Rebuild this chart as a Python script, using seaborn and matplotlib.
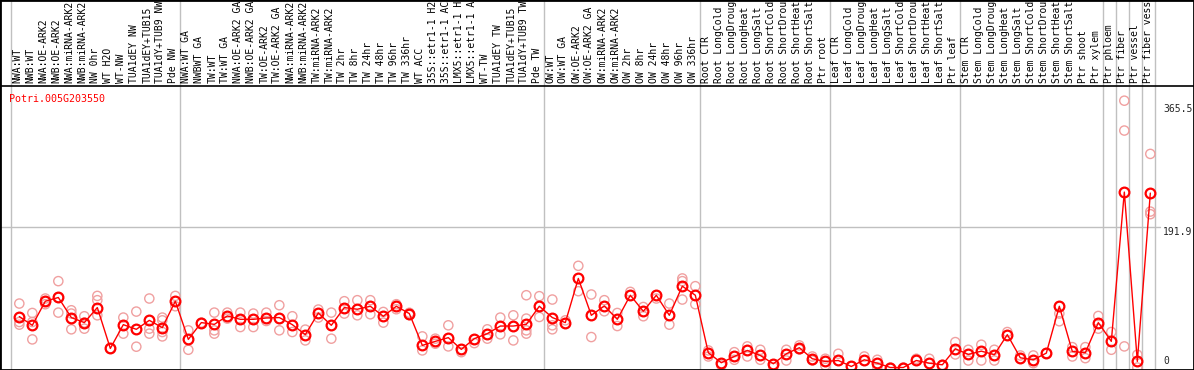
import numpy as np
import pandas as pd
import matplotlib
matplotlib.use("Agg")
import matplotlib.pyplot as plt
from matplotlib.lines import Line2D
import seaborn as sns

gene = "Potri.005G203550"

# sample names as printed in the header (cut to 14 characters there)
labels = [
    "NWA:WT", "NWB:WT", "NWA:OE-ARK2", "NWB:OE-ARK2", "NWA:miRNA-ARK2", "NWB:miRNA-ARK2",
    "NW 0hr", "WT H2O", "WT-NW", "TUA1dEY NW", "TUA1dEY+TUB15", "TUA1dY+TUB9 NW", "Pde NW",
    "NWA:WT GA", "NWBWT GA", "TW:WT", "TW:WT GA", "NWA:OE-ARK2 GA", "NWB:OE-ARK2 GA",
    "TW:OE-ARK2", "TW:OE-ARK2 GA", "NWA:miRNA-ARK2", "NWB:miRNA-ARK2", "TW:miRNA-ARK2",
    "TW:miRNA-ARK2", "TW 2hr", "TW 8hr", "TW 24hr", "TW 48hr", "TW 96hr", "TW 336hr", "WT ACC",
    "35S::etr1-1 H2", "35S::etr1-1 AC", "LMX5::etr1-1 H", "LMX5::etr1-1 A", "WT-TW",
    "TUA1dEY TW", "TUA1dEY+TUB15", "TUA1dY+TUB9 TW", "Pde TW",
    "OW:WT", "OW:WT GA", "OW:OE-ARK2", "OW:OE-ARK2 GA", "OW:miRNA-ARK2", "OW:miRNA-ARK2",
    "OW 2hr", "OW 8hr", "OW 24hr", "OW 48hr", "OW 96hr", "OW 336hr",
    "Root CTR", "Root LongCold", "Root LongDroug", "Root LongHeat", "Root LongSalt",
    "Root ShortCold", "Root ShortDrou", "Root ShortHeat", "Root ShortSalt", "Ptr root",
    "Leaf CTR", "Leaf LongCold", "Leaf LongDroug", "Leaf LongHeat", "Leaf LongSalt",
    "Leaf ShortCold", "Leaf ShortDrou", "Leaf ShortHeat", "Leaf ShortSalt", "Ptr leaf",
    "Stem CTR", "Stem LongCold", "Stem LongDroug", "Stem LongHeat", "Stem LongSalt",
    "Stem ShortCold", "Stem ShortDrou", "Stem ShortHeat", "Stem ShortSalt", "Ptr shoot",
    "Ptr xylem", "Ptr phloem", "Ptr fiber", "Ptr vessel", "Ptr fiber vess",
]

means = [
    69.7, 57.8, 90.8, 95.9, 68.4, 61.5, 82.1, 26.1, 58.7, 52.3, 64.6, 54.6, 90.8,
    38.5, 61.5, 59.1, 70.6, 66.0, 66.0, 67.8, 68.4, 58.7, 45.0, 74.7, 57.8, 82.1, 79.8,
    83.9, 70.2, 83.9, 73.9, 30.3, 35.8, 40.9, 24.8, 39.5, 46.4, 56.8, 56.8, 59.1, 83.9,
    68.4, 61.5, 122.0, 71.5, 84.3, 66.0, 99.0, 77.0, 99.0, 71.5, 111.4, 99.0,
    20.2, 6.5, 15.1, 23.4, 16.5, 5.1, 18.8, 27.1, 12.0, 8.3,
    9.6, 1.4, 10.6, 5.9, 0.0, 0.0, 9.6, 5.9, 3.7, 25.7,
    17.9, 22.4, 17.5, 45.0, 13.3, 10.6, 19.7, 83.9, 22.0, 20.2,
    61.5, 35.8, 240.3, 8.3, 238.9,
]

reps = [
    [87.6, 62.3, 58.7], [74.7, 62.3, 38.5], [94.5, 90.8, 86.7], [118.3, 75.2, 95.9],
    [78.4, 73.9, 52.3], [70.2, 53.2, 61.5], [98.1, 92.2, 71.5], [26.1, 26.1],
    [68.4, 46.4], [76.6, 28.5], [94.5, 53.2, 46.4], [68.4, 64.6, 48.6, 42.6],
    [98.1, 83.9],
    [50.9, 24.3], [61.5], [75.2, 50.9, 46.4], [75.2, 67.0], [75.2, 55.4], [73.9, 55.4],
    [75.2, 63.7], [85.3, 50.9], [70.2, 48.6], [51.9, 37.1], [79.4, 68.4], [75.2, 39.5],
    [90.8, 73.9], [92.2, 71.5], [92.2, 72.9], [76.1, 61.5], [86.7, 79.8], [75.0, 72.0],
    [42.6, 23.4], [39.5, 32.6], [57.8, 28.9], [21.0], [33.4], [52.3, 39.5], [68.4, 45.4],
    [71.5, 37.1], [99.0, 67.0, 50.9, 46.4], [97.7, 69.2],
    [93.1, 57.8, 52.3], [64.6], [139.3, 104.5], [100.0, 41.7], [92.2, 77.0], [74.7, 56.8],
    [103.6], [82.9, 70.2], [94.5], [87.6, 58.7], [122.0, 118.3, 93.1], [111.4, 86.7],
    [23.4, 15.1], [2.8], [21.0, 10.6], [28.9, 15.1], [24.3, 10.6], [0.4], [24.3, 9.6],
    [30.3, 24.8], [9.6, 15.1], [12.0, 2.8],
    [18.8], [1.4], [15.1], [10.6, 0.4], [0.0], [0.0], [12.0], [12.0], [3.7], [34.8, 17.9],
    [24.3, 9.6], [31.2, 9.6], [24.3, 9.6], [48.6], [16.5], [16.5, 5.9], [19.7],
    [73.9, 63.3], [27.9, 15.1], [27.9, 12.8],
    [70.6, 53.2], [48.6, 24.3], [365.5, 324.6, 28.9], [17.5, 0.0], [292.6, 213.6, 210.0],
]

# group boundaries (column index)
separators = [0, 13, 41, 53, 63, 73, 84, 85, 86, 87, 88]
ytick_vals = [365.5, 191.9, 0]

W, H = 1194, 370
LABEL_H = 86


def px_x(px):
    # pixel column -> category units
    return (px - 11) / 13.0


def px_y(py):
    # pixel row -> value units
    return (367.5 - py) / 0.73


pos = np.arange(len(labels)) + 0.64
df_mean = pd.DataFrame({"pos": pos, "value": means, "label": labels})
df_reps = pd.DataFrame(
    [(p, v) for p, rs in zip(pos, reps) for v in rs], columns=["pos", "value"]
)

sns.set_style("white")
fig = plt.figure(figsize=(W / 100, H / 100), dpi=100)
ax = fig.add_axes([0, 0, 1, (H - LABEL_H) / H])
ax_lab = fig.add_axes([0, (H - LABEL_H) / H, 1, LABEL_H / H])

xlim = (px_x(0), px_x(W))
for a in (ax, ax_lab):
    a.set_xlim(*xlim)
    a.axis("off")
    for s in separators:
        a.axvline(s, color="#c0c0c0", lw=1, zorder=0)

ax.set_ylim(px_y(H), px_y(LABEL_H))
ax_lab.set_ylim(0, 1)

ax.plot([xlim[0], px_x(1160)], [191.9, 191.9], color="#c0c0c0", lw=1, zorder=0)

sns.scatterplot(data=df_reps, x="pos", y="value", ax=ax, s=44, marker="o",
                linewidth=1.0, zorder=2, legend=False)
pts = ax.collections[-1]
pts.set_facecolor("none")
pts.set_edgecolor("#f0a0a0")
pts.set_clip_on(False)

sns.lineplot(data=df_mean, x="pos", y="value", ax=ax, color="red", lw=1,
             marker="o", markersize=7, markerfacecolor="none",
             markeredgecolor="red", markeredgewidth=1.6, zorder=3, legend=False)

mono = "DejaVu Sans Mono"
for i, lab in enumerate(labels):
    ax_lab.text(i + 0.48, 3 / LABEL_H, lab, rotation=90, ha="center", va="bottom",
                fontsize=7, family=mono, color="black")

ax.text(px_x(9), px_y(102), gene, color="red", fontsize=7.2, family=mono,
        ha="left", va="baseline")

for v in ytick_vals:
    if v == 0:
        ax.text(px_x(1163), px_y(366), "0", fontsize=7, family=mono, ha="left", va="bottom")
    else:
        ax.text(px_x(1163), v - (4 if v > 300 else 0), f"{v}", fontsize=7, family=mono,
                ha="left", va="top")

fig.add_artist(Line2D([0, 1], [(H - LABEL_H) / H] * 2, color="black", lw=1.2))
fig.add_artist(plt.Rectangle((0, 0), 1, 1, transform=fig.transFigure, fill=False,
                             ec="black", lw=2))

fig.savefig("out.png", dpi=100)
